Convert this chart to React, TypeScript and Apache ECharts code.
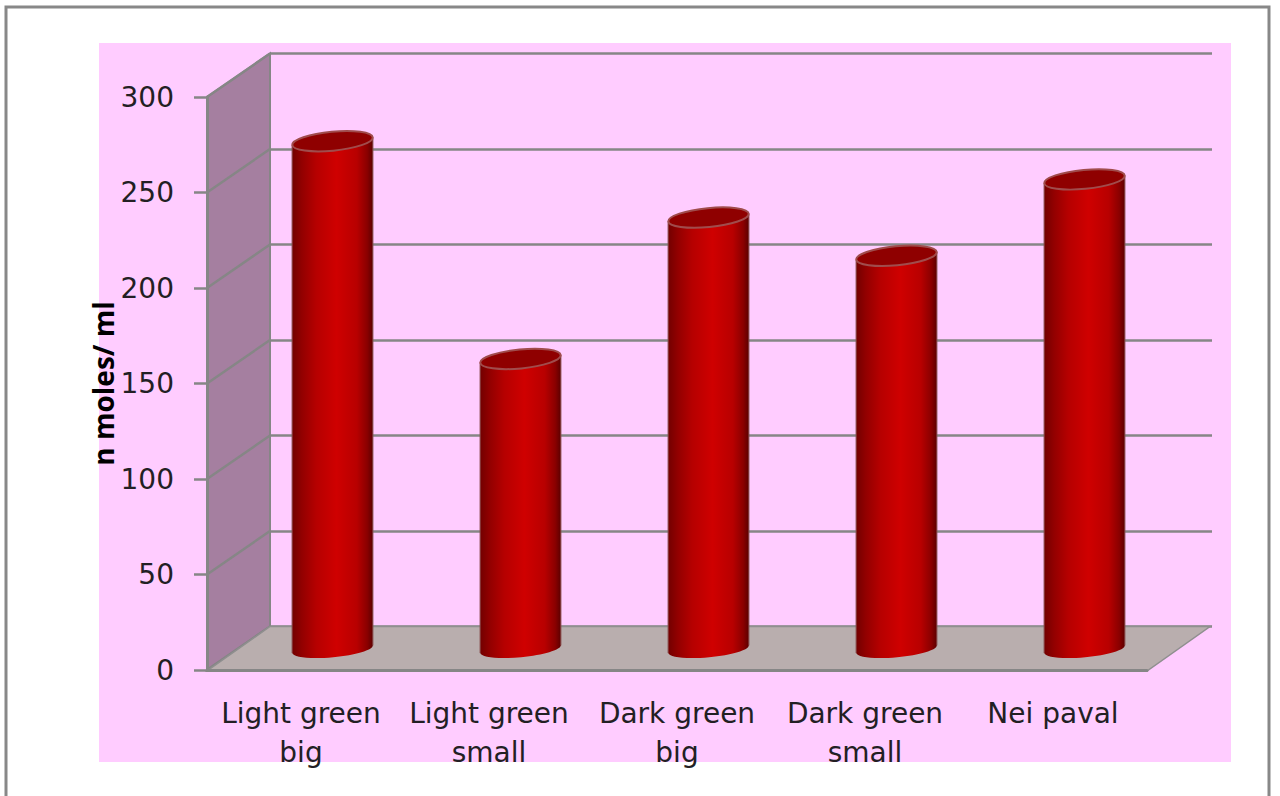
import React, { useEffect, useRef } from "react";
import * as echarts from "echarts";

// Extract levels per sample, n moles/ml
const categories = ["Light green\nbig", "Light green\nsmall", "Dark green\nbig", "Dark green\nsmall", "Nei paval"];
const values = [266, 152, 226, 206, 246];
const tickValues = [0, 50, 100, 150, 200, 250, 300];
const axisTitle = "n moles/ ml";

const FONT = "'DejaVu Sans', sans-serif";
const TITLE_FONT = "'Open Sans', sans-serif";
const LINE = "#868686";
const TEXT = "#231f24";
// Offset from the front plane of the box to its back plane
const DEPTH_X = 63;
const DEPTH_Y = -43.5;
// How far into the box the cylinders stand, vertically
const CYLINDER_DEPTH_Y = -20.75;

const bodyFill = () =>
  new echarts.graphic.LinearGradient(0, 0, 1, 0, [
    { offset: 0, color: "#720000" },
    { offset: 0.12, color: "#920000" },
    { offset: 0.3, color: "#b60000" },
    { offset: 0.55, color: "#cf0000" },
    { offset: 0.8, color: "#b80000" },
    { offset: 0.93, color: "#8a0000" },
    { offset: 1, color: "#5c0000" },
  ]);

// Shaded side wall with the diagonal rules that carry each tick back
const renderWall = (params: any, api: any) => {
  const x = params.coordSys.x;
  const yLow = api.coord([0, api.value(0)])[1];
  const yHigh = api.coord([0, api.value(1)])[1];
  return {
    type: "polygon",
    silent: true,
    shape: {
      points: [
        [x, yLow],
        [x + DEPTH_X, yLow + DEPTH_Y],
        [x + DEPTH_X, yHigh + DEPTH_Y],
        [x, yHigh],
      ],
    },
    style: { fill: "#a57fa0", stroke: LINE, lineWidth: 2 },
  };
};

const renderDiagonal = (params: any, api: any) => {
  const x = params.coordSys.x;
  const y = api.coord([0, api.value(0)])[1];
  return {
    type: "line",
    silent: true,
    shape: { x1: x, y1: y, x2: x + DEPTH_X, y2: y + DEPTH_Y },
    style: { stroke: LINE, lineWidth: 2.5 },
  };
};

const renderFloor = (params: any, api: any) => {
  const { x, width } = params.coordSys;
  const y = api.coord([0, api.value(0)])[1];
  return {
    type: "polygon",
    silent: true,
    shape: {
      points: [
        [x, y + 1],
        [x + width, y + 1],
        [x + width + DEPTH_X, y + DEPTH_Y],
        [x + DEPTH_X, y + DEPTH_Y],
      ],
    },
    style: { fill: "#b9aeae", stroke: "#8f8f8f", lineWidth: 1.5 },
  };
};

// One upright cylinder standing halfway into the box depth
const renderCylinder = (_params: any, api: any) => {
  const top = api.coord([api.value(0), api.value(1)]);
  const base = api.coord([api.value(0), 0]);
  const cx = top[0] + DEPTH_X / 2;
  const rx = api.size([1, 0])[0] * 0.215;
  const topY = top[1] + CYLINDER_DEPTH_Y;
  const baseY = base[1] + CYLINDER_DEPTH_Y;
  const tilt = 0.095;
  const lift = rx * Math.sin(tilt);
  const edge = { stroke: "#8a5050", lineWidth: 1 };
  return {
    type: "group",
    silent: true,
    children: [
      {
        type: "ellipse",
        x: cx,
        y: baseY,
        rotation: tilt,
        shape: { cx: 0, cy: 0, rx, ry: 8 },
        style: { fill: bodyFill() },
      },
      {
        type: "polygon",
        shape: {
          points: [
            [cx - rx, topY + lift],
            [cx + rx, topY - lift],
            [cx + rx, baseY - lift],
            [cx - rx, baseY + lift],
          ],
        },
        style: { fill: bodyFill() },
      },
      {
        type: "line",
        shape: { x1: cx + rx, y1: topY - lift, x2: cx + rx, y2: baseY - lift },
        style: edge,
      },
      {
        type: "line",
        shape: { x1: cx - rx, y1: topY + lift, x2: cx - rx, y2: baseY + lift },
        style: edge,
      },
      {
        type: "ellipse",
        x: cx,
        y: topY,
        rotation: tilt,
        shape: { cx: 0, cy: 0, rx, ry: 9.5 },
        style: { fill: "#8f0000", stroke: "#a04c4c", lineWidth: 2 },
      },
    ],
  };
};

export default function App() {
  const ref = useRef<HTMLDivElement>(null);

  useEffect(() => {
    document.body.style.margin = "0";
    const chart = echarts.init(ref.current!, undefined, { renderer: "svg" });
    chart.setOption({
      animation: false,
      backgroundColor: "#ffffff",
      graphic: [
        {
          type: "rect",
          z: -2,
          silent: true,
          shape: { x: 99, y: 43, width: 1132, height: 719 },
          style: { fill: "#ffccff" },
        },
        {
          type: "polyline",
          z: -2,
          silent: true,
          shape: { points: [[6, 796], [6, 7], [1269, 7], [1269, 796]] },
          style: { fill: "none", stroke: "#888888", lineWidth: 3 },
        },
      ],
      grid: [
        { left: 207, top: 97, width: 940, height: 573 },
        { left: 207 + DEPTH_X, top: 97 + DEPTH_Y, width: 942, height: 573 },
      ],
      xAxis: [
        {
          type: "category",
          gridIndex: 0,
          data: categories,
          offset: 2,
          z: 5,
          axisTick: { show: false },
          axisLine: { show: true, lineStyle: { color: LINE, width: 3 } },
          axisLabel: {
            interval: 0,
            margin: 22,
            color: TEXT,
            fontFamily: FONT,
            fontSize: 28,
            lineHeight: 39,
          },
        },
        { type: "category", gridIndex: 1, data: categories, show: false },
      ],
      yAxis: [
        {
          type: "value",
          gridIndex: 0,
          min: 0,
          max: 300,
          interval: 50,
          z: 5,
          name: axisTitle,
          nameLocation: "middle",
          nameGap: 90,
          nameMoveOverlap: false,
          nameRotate: 90,
          nameTextStyle: { color: "#000000", fontFamily: TITLE_FONT, fontWeight: "bold", fontSize: 28 },
          splitLine: { show: false },
          axisLine: { show: true, lineStyle: { color: LINE, width: 3 } },
          axisTick: { show: true, length: 13, lineStyle: { color: LINE, width: 2.5 } },
          axisLabel: { margin: 33, color: TEXT, fontFamily: FONT, fontSize: 28 },
        },
        {
          type: "value",
          gridIndex: 1,
          min: 0,
          max: 300,
          interval: 50,
          axisLine: { show: false },
          axisTick: { show: false },
          axisLabel: { show: false },
          splitLine: { show: true, lineStyle: { color: LINE, width: 2.5 } },
        },
      ],
      series: [
        {
          type: "custom",
          xAxisIndex: 0,
          yAxisIndex: 0,
          z: 1,
          clip: false,
          renderItem: renderWall,
          encode: { y: [0, 1] },
          data: [[tickValues[0], tickValues[tickValues.length - 1]]],
        },
        {
          type: "custom",
          xAxisIndex: 0,
          yAxisIndex: 0,
          z: 2,
          clip: false,
          renderItem: renderDiagonal,
          encode: { y: 0 },
          data: tickValues.map((v) => [v]),
        },
        {
          type: "custom",
          xAxisIndex: 0,
          yAxisIndex: 0,
          z: 3,
          clip: false,
          renderItem: renderFloor,
          encode: { y: 0 },
          data: [[tickValues[0]]],
        },
        {
          type: "custom",
          xAxisIndex: 0,
          yAxisIndex: 0,
          z: 4,
          clip: false,
          renderItem: renderCylinder,
          encode: { x: 0, y: 1 },
          data: values.map((v, i) => [i, v]),
        },
      ],
    });
    return () => chart.dispose();
  }, []);

  return <div ref={ref} style={{ width: 1280, height: 796 }} />;
}
